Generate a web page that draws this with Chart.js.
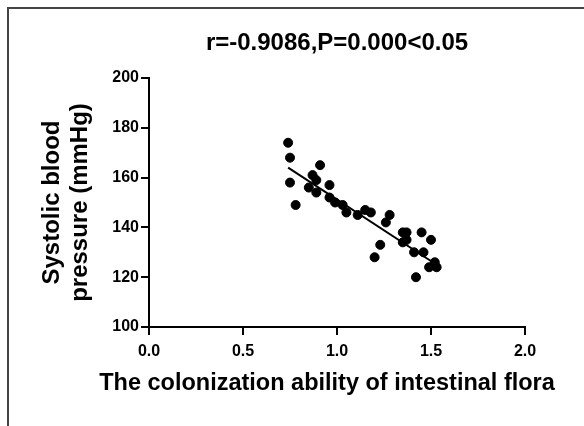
<!DOCTYPE html>
<html>
<head>
<meta charset="utf-8">
<script src="https://cdn.jsdelivr.net/npm/chart.js@4.4.0/dist/chart.umd.min.js"></script>
<style>
  html, body { margin: 0; padding: 0; background: #fff; }
  #wrap { width: 584px; height: 426px; }
</style>
</head>
<body>
<div id="wrap"><canvas id="myChart"></canvas></div>
<script>
const ctx = document.getElementById('myChart');

// colonization ability (x) and systolic blood pressure (y)
const colonization = [0.74, 0.75, 0.91, 0.75, 0.78, 0.87, 0.89, 0.85, 0.89, 0.96, 0.96, 0.99, 1.03, 1.05, 1.11, 1.15, 1.18,
	1.28, 1.26, 1.23, 1.20, 1.35, 1.37, 1.37, 1.35, 1.45, 1.50, 1.41, 1.46, 1.49, 1.52, 1.53, 1.42];
const systolic = [174, 168, 165, 158, 149, 161, 159, 156, 154, 157, 152, 150, 149, 146, 145, 147, 146,
	145, 142, 133, 128, 138, 138, 135, 134, 138, 135, 130, 130, 124, 126, 124, 120];

// fitted regression line ends
const fitX = [0.74, 1.53];
const fitY = [164, 125];

const xTicks = [0, 0.5, 1.0, 1.5, 2.0];
const yTicks = [100, 120, 140, 160, 180, 200];

const xTitle = 'The colonization ability of intestinal flora';
const font = 'Arial, "Liberation Sans", Helvetica, sans-serif';

const framePlugin = {
	id: 'frame',
	beforeDraw(chart) {
		const c = chart.ctx;
		c.save();
		c.fillStyle = '#fff';
		c.fillRect(0, 0, chart.width, chart.height);
		c.strokeStyle = '#444';
		c.lineWidth = 2;
		c.beginPath();
		c.moveTo(8, chart.height);
		c.lineTo(8, 8);
		c.lineTo(chart.width, 8);
		c.stroke();
		c.restore();
	},
	// x axis title is wider than the plot, so draw it here (scale titles get squeezed)
	afterDraw(chart) {
		const c = chart.ctx;
		c.save();
		c.fillStyle = '#000';
		c.font = 'bold 23.5px ' + font;
		c.textAlign = 'center';
		c.textBaseline = 'middle';
		c.fillText(xTitle, 327, 384);
		c.restore();
	}
};

new Chart(ctx, {
	type: 'scatter',
	data: {
		datasets: [{
			label: 'points',
			data: colonization.map((x, i) => ({ x: x, y: systolic[i] })),
			backgroundColor: '#000',
			borderColor: '#000',
			pointRadius: 4.5,
			pointHoverRadius: 4.5,
		}, {
			label: 'fit',
			data: fitX.map((x, i) => ({ x: x, y: fitY[i] })),
			showLine: true,
			borderColor: '#000',
			borderWidth: 2,
			pointRadius: 0,
		}]
	},
	options: {
		responsive: true,
		maintainAspectRatio: false,
		animation: false,
		layout: {
			padding: { left: 0, right: 59, top: 0, bottom: 0 }
		},
		plugins: {
			legend: { display: false },
			tooltip: { enabled: false },
			title: {
				display: true,
				fullSize: false,
				text: 'r=-0.9086,P=0.000<0.05',
				color: '#000',
				font: { family: font, size: 24, weight: 'bold', lineHeight: 1.2 },
				padding: { top: 28.6, bottom: 20.6 }
			}
		},
		scales: {
			x: {
				type: 'linear',
				min: 0,
				max: 2,
				afterFit: s => { s.height = 99; },
				afterBuildTicks: s => { s.ticks = xTicks.map(v => ({ value: v })); },
				ticks: {
					color: '#000',
					font: { family: font, size: 16, weight: 'bold' },
					padding: 7,
					callback: v => v.toFixed(1)
				},
				grid: { drawOnChartArea: false, drawTicks: true, tickLength: 8, color: '#000', lineWidth: 2 },
				border: { display: true, color: '#000', width: 2 },
				title: { display: false }
			},
			y: {
				type: 'linear',
				min: 100,
				max: 200,
				afterFit: s => { s.width = 149; },
				afterBuildTicks: s => { s.ticks = yTicks.map(v => ({ value: v })); },
				ticks: {
					color: '#000',
					font: { family: font, size: 16, weight: 'bold' },
					padding: 2
				},
				grid: { drawOnChartArea: false, drawTicks: true, tickLength: 8, color: '#000', lineWidth: 2 },
				border: { display: true, color: '#000', width: 2 },
				title: {
					display: true,
					text: ['Systolic blood', 'pressure (mmHg)'],
					color: '#000',
					font: { family: font, size: 24, weight: 'bold', lineHeight: 1.2 },
					padding: { top: 37.6, bottom: 0 }
				}
			}
		}
	},
	plugins: [framePlugin]
});
</script>
</body>
</html>
